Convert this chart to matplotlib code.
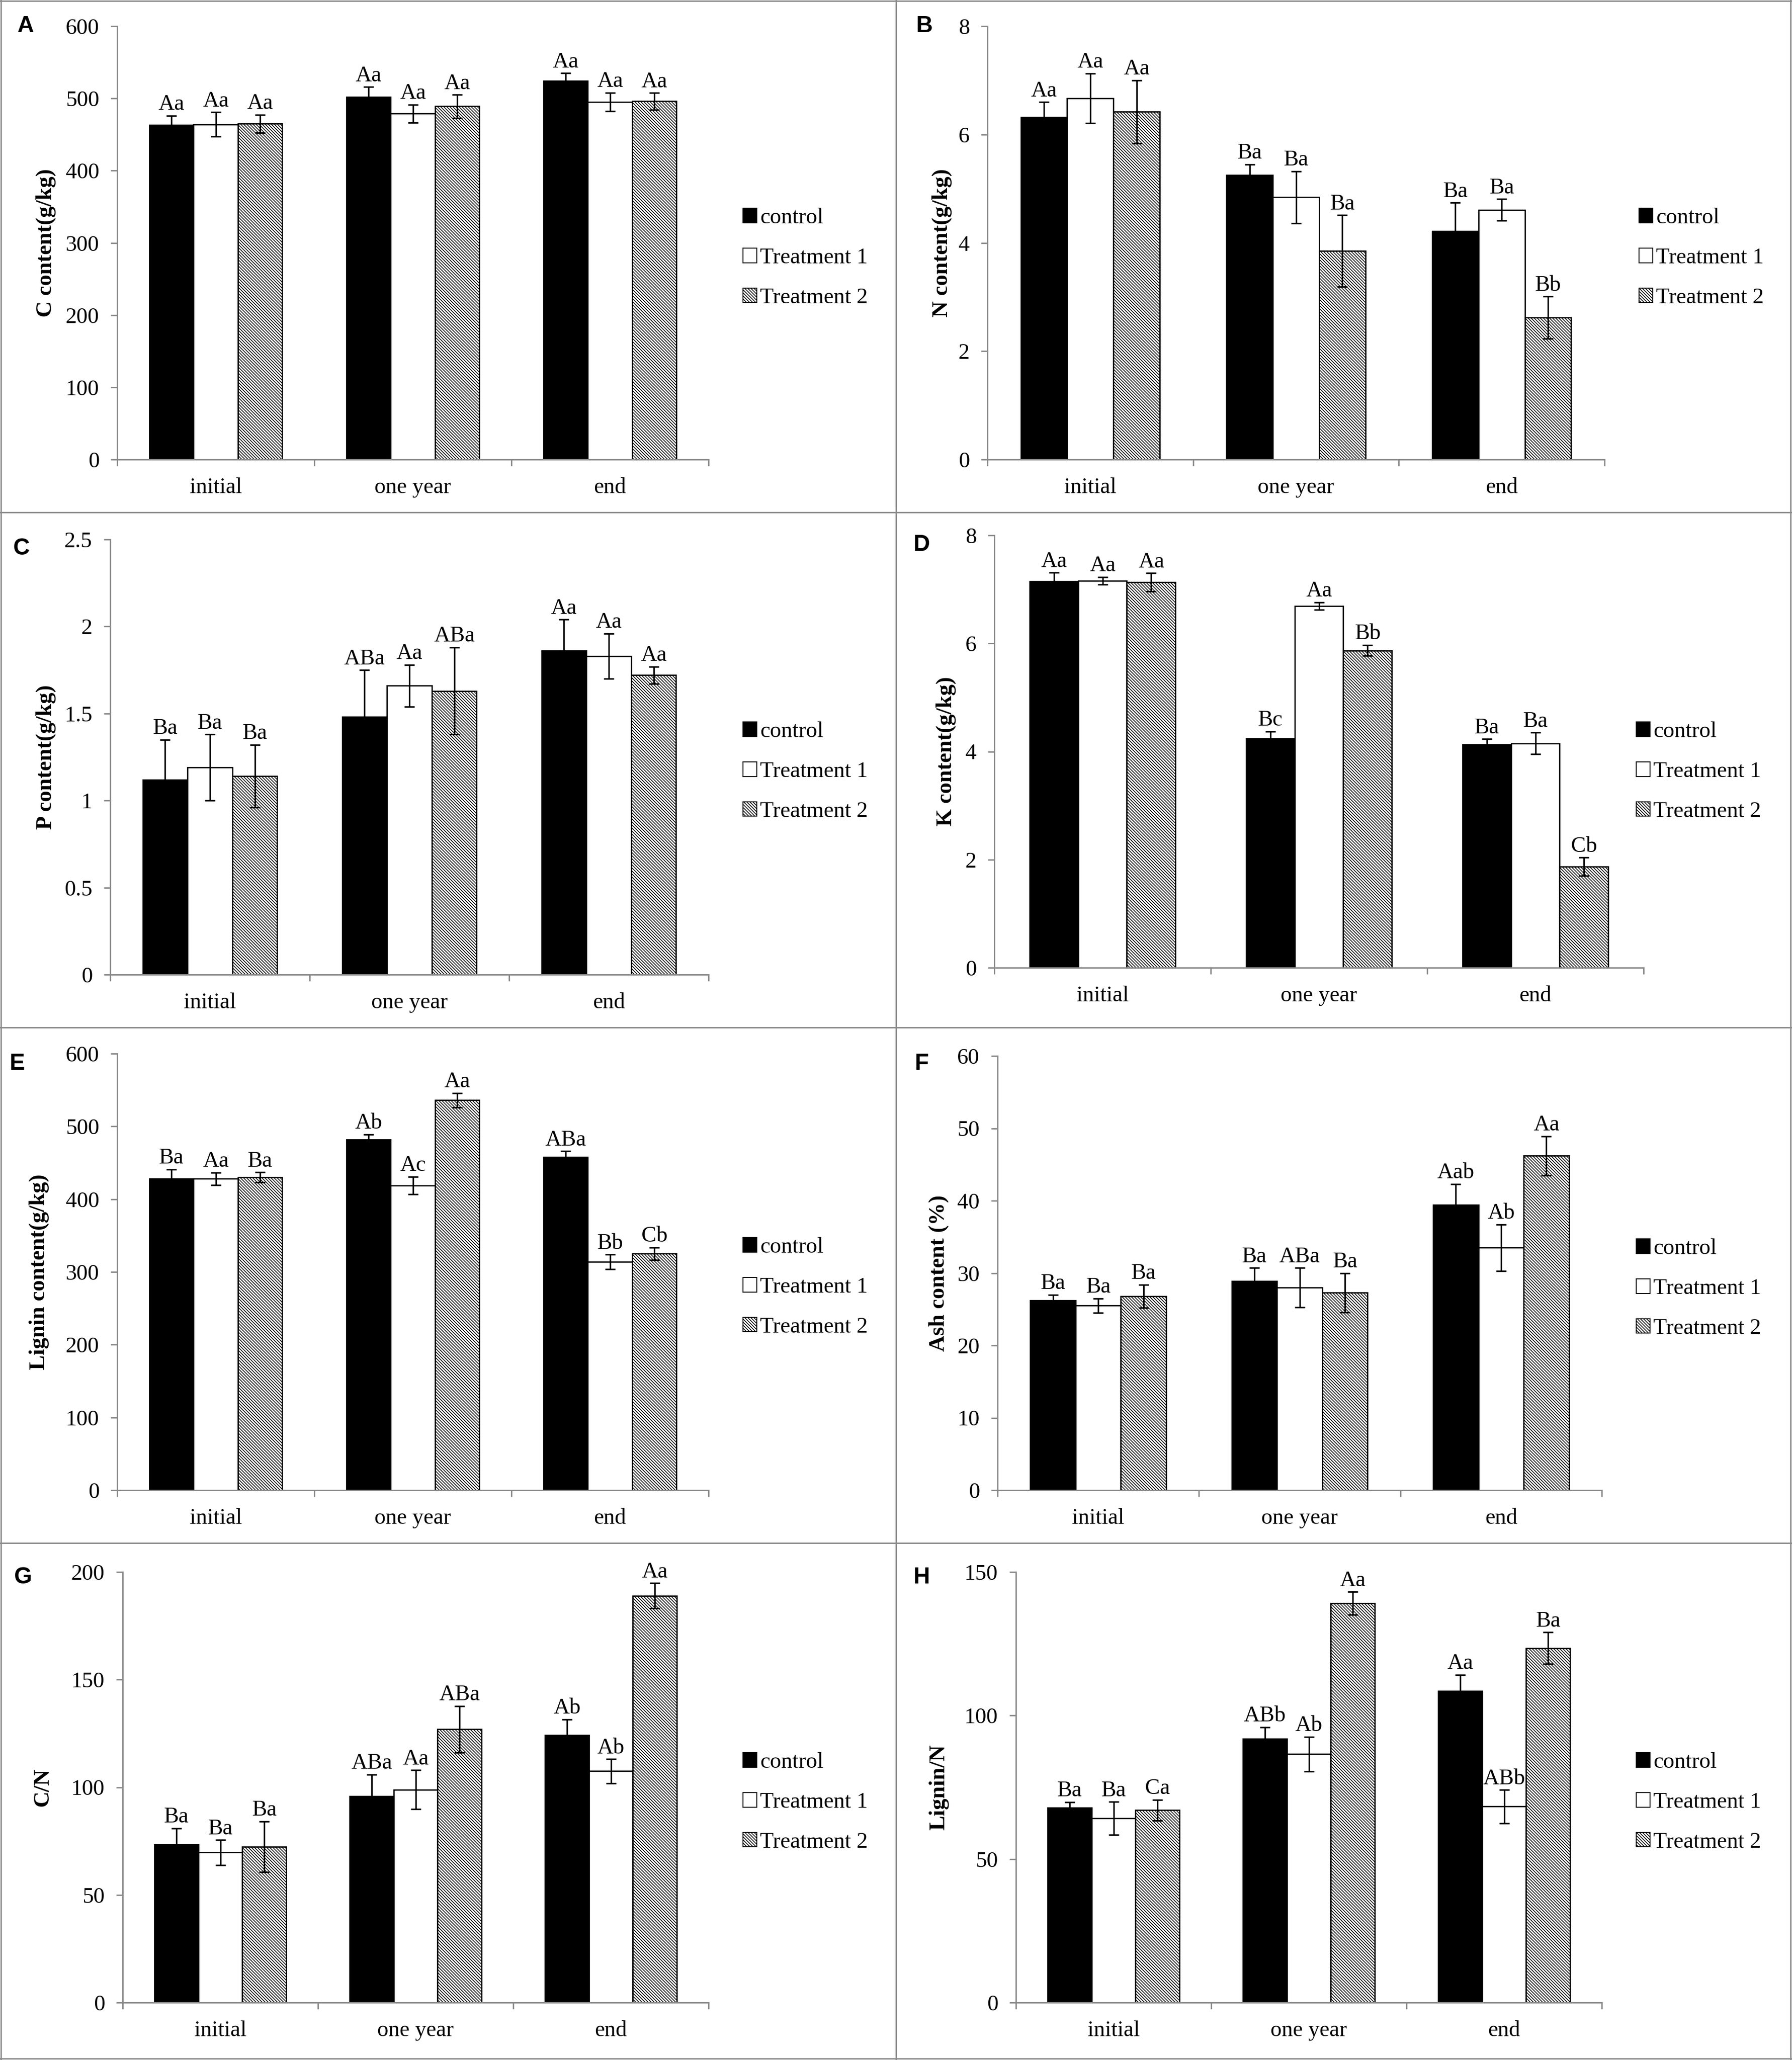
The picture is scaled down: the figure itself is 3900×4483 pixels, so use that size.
import matplotlib
matplotlib.use('Agg')
import matplotlib.pyplot as plt
from matplotlib.patches import Patch
from matplotlib.lines import Line2D
from matplotlib.ticker import FixedLocator, FuncFormatter, MultipleLocator

# ---------------- data ----------------
categories = ['initial', 'one year', 'end']
series = ['control', 'Treatment 1', 'Treatment 2']

# A: C content (g/kg)
c_means = [[463, 502, 524], [464, 479, 495], [465, 489, 496]]
c_errs = [[13, 14, 11], [17, 12.5, 13], [12.5, 16, 11.5]]
c_letters = [['Aa', 'Aa', 'Aa'], ['Aa', 'Aa', 'Aa'], ['Aa', 'Aa', 'Aa']]

# B: N content (g/kg)
n_means = [[6.32, 5.25, 4.22], [6.67, 4.84, 4.61], [6.42, 3.85, 2.62]]
n_errs = [[0.28, 0.2, 0.52], [0.46, 0.48, 0.2], [0.58, 0.66, 0.39]]
n_letters = [['Aa', 'Ba', 'Ba'], ['Aa', 'Ba', 'Ba'], ['Aa', 'Ba', 'Bb']]

# C: P content (g/kg)
p_means = [[1.12, 1.48, 1.86], [1.19, 1.66, 1.83], [1.14, 1.63, 1.72]]
p_errs = [[0.23, 0.27, 0.18], [0.19, 0.12, 0.13], [0.18, 0.25, 0.05]]
p_letters = [['Ba', 'ABa', 'Aa'], ['Ba', 'Aa', 'Aa'], ['Ba', 'ABa', 'Aa']]

# D: K content (g/kg)
k_means = [[7.15, 4.24, 4.13], [7.16, 6.69, 4.15], [7.13, 5.87, 1.87]]
k_errs = [[0.16, 0.13, 0.1], [0.07, 0.07, 0.2], [0.17, 0.1, 0.17]]
k_letters = [['Aa', 'Bc', 'Ba'], ['Aa', 'Aa', 'Ba'], ['Aa', 'Bb', 'Cb']]

# E: Lignin content (g/kg)
lig_means = [[428, 482, 458], [428, 419, 314], [430, 536, 325]]
lig_errs = [[13, 7, 8], [8.5, 12, 10], [7, 10, 8.5]]
lig_letters = [['Ba', 'Ab', 'ABa'], ['Aa', 'Ac', 'Bb'], ['Ba', 'Aa', 'Cb']]

# F: Ash content (%)
ash_means = [[26.2, 28.9, 39.4], [25.5, 28.0, 33.5], [26.8, 27.3, 46.2]]
ash_errs = [[0.8, 1.8, 2.9], [1.0, 2.7, 3.2], [1.6, 2.7, 2.7]]
ash_letters = [['Ba', 'Ba', 'Aab'], ['Ba', 'ABa', 'Ab'], ['Ba', 'Ba', 'Aa']]

# G: C/N
cn_means = [[73.5, 95.9, 124.2], [69.7, 98.9, 107.5], [72.4, 126.9, 189.0]]
cn_errs = [[7.5, 10, 7.3], [5.8, 9.1, 5.6], [11.7, 10.8, 5.8]]
cn_letters = [['Ba', 'ABa', 'Ab'], ['Ba', 'Aa', 'Ab'], ['Ba', 'ABa', 'Aa']]

# H: Lignin/N
ln_means = [[67.8, 91.9, 108.5], [64.2, 86.6, 68.3], [67.0, 139.1, 123.5]]
ln_errs = [[2, 4, 5.7], [5.7, 6, 5.8], [3.6, 4, 5.5]]
ln_letters = [['Ba', 'ABb', 'Aa'], ['Ba', 'Ab', 'ABb'], ['Ca', 'Aa', 'Ba']]

# ---------------- style ----------------
W, H, DPI = 3900, 4483, 100
SERIF = ['Liberation Serif', 'DejaVu Serif']
SANS = ['Liberation Sans', 'DejaVu Sans']
GRAY = '#8a8a8a'
FS = 35
HATCH = '\\\\\\\\\\'
plt.rcParams['hatch.linewidth'] = 1.2
plt.rcParams['font.family'] = SERIF

fig = plt.figure(figsize=(W / DPI, H / DPI), dpi=DPI)

panels = [
    # letter, means, errs, letters, ylabel, ymax, ystep, box(left, top, right, bottom), ylabel x, legend x, legend y(mid), letter pos
    ('A', c_means, c_errs, c_letters, 'C content(g/kg)', 600, 100, (255, 57, 1542, 1000), 100, 1617, 561, (56, 57)),
    ('B', n_means, n_errs, n_letters, 'N content(g/kg)', 8, 2, (2149, 57, 3492, 1000), 2050, 3567, 561, (2012, 57)),
    ('C', p_means, p_errs, p_letters, 'P content(g/kg)', 2.5, 0.5, (240, 1174, 1542, 2121), 100, 1617, 1679, (47, 1194)),
    ('D', k_means, k_errs, k_letters, 'K content(g/kg)', 8, 2, (2164, 1165, 3577, 2106), 2059, 3561, 1679, (2006, 1186)),
    ('E', lig_means, lig_errs, lig_letters, 'Lignin content(g/kg)', 600, 100, (255, 2293, 1542, 3243), 85, 1617, 2801, (37, 2315)),
    ('F', ash_means, ash_errs, ash_letters, 'Ash content (%)', 60, 10, (2171, 2298, 3486, 3243), 2043, 3561, 2804, (2006, 2315)),
    ('G', cn_means, cn_errs, cn_letters, 'C/N', 200, 50, (267, 3421, 1542, 4358), 93, 1617, 3922, (50, 3433)),
    ('H', ln_means, ln_errs, ln_letters, 'Lignin/N', 150, 50, (2211, 3421, 3486, 4358), 2043, 3561, 3922, (2006, 3433)),
]

bw = 0.225
offsets = [-bw, 0.0, bw]
faces = ['black', 'white', 'white']
hatches = [None, None, HATCH]

legend_handles = [
    Patch(facecolor='black', edgecolor='black', linewidth=1.5),
    Patch(facecolor='white', edgecolor='black', linewidth=1.5),
    Patch(facecolor='white', edgecolor='black', linewidth=1.5, hatch=HATCH),
]

for (plet, means, errs, lets, ylab, ymax, ystep, box, ylx, lgx, lgy, lpos) in panels:
    l, t, r, b = box
    ax = fig.add_axes([l / W, 1 - b / H, (r - l) / W, (b - t) / H])
    xc = [i + 0.5 for i in range(len(categories))]
    for s in range(3):
        xs = [x + offsets[s] for x in xc]
        ax.bar(xs, means[s], width=bw, color=faces[s], edgecolor='black',
               linewidth=2.0, hatch=hatches[s], zorder=2)
        ax.errorbar(xs, means[s], yerr=errs[s], fmt='none', ecolor='black',
                    elinewidth=2.4, capsize=8, capthick=2.4, zorder=3)
        for x, m, e, txt in zip(xs, means[s], errs[s], lets[s]):
            ax.annotate(txt, (x, m + e), xytext=(0, 9), textcoords='offset points',
                        ha='center', va='baseline', fontsize=FS, family=SERIF, zorder=4)
    ax.set_xlim(0, 3)
    ax.set_ylim(0, ymax)
    ax.yaxis.set_major_locator(MultipleLocator(ystep))
    ax.yaxis.set_major_formatter(FuncFormatter(lambda v, p: '%g' % v))
    ax.xaxis.set_major_locator(FixedLocator([0, 1, 2, 3]))
    ax.xaxis.set_major_formatter(FuncFormatter(lambda v, p: ''))
    ax.xaxis.set_minor_locator(FixedLocator(xc))
    ax.set_xticklabels(categories, minor=True)
    for sp in ['top', 'right']:
        ax.spines[sp].set_visible(False)
    for sp in ['left', 'bottom']:
        ax.spines[sp].set_color(GRAY)
        ax.spines[sp].set_linewidth(2.2)
    ax.tick_params(axis='y', which='major', direction='out', length=10, width=2.2,
                   color=GRAY, pad=18, labelsize=FS)
    ax.tick_params(axis='x', which='major', direction='out', length=10, width=2.2,
                   color=GRAY)
    ax.tick_params(axis='x', which='minor', length=0, pad=28, labelsize=FS)
    ax.set_facecolor('none')
    ax.set_ylabel(ylab, fontsize=35, fontweight='bold', family=SERIF, va='center')
    ax.yaxis.set_label_coords((ylx - l) / (r - l), 0.5)
    ax.legend(legend_handles, series, loc='center left',
              bbox_to_anchor=(lgx / W, 1 - lgy / H), bbox_transform=fig.transFigure,
              frameon=False, borderpad=0, borderaxespad=0, handlelength=0.62,
              handleheight=0.62, handletextpad=0.15, labelspacing=0.88,
              prop={'family': SERIF, 'size': FS})
    fig.text(lpos[0] / W, 1 - lpos[1] / H, plet, ha='center', va='center',
             fontsize=36, fontweight='bold', family=SANS)

# panel frames
frame_kw = dict(color=GRAY, linewidth=2.2, transform=fig.transFigure)
for yy in [2, 1115, 2236, 3358, 4480]:
    fig.add_artist(Line2D([0, 1], [1 - yy / H, 1 - yy / H], **frame_kw))
for xx in [2, 1950, 3897]:
    fig.add_artist(Line2D([xx / W, xx / W], [0, 1], **frame_kw))

fig.savefig('out.png', dpi=DPI, facecolor='white')
